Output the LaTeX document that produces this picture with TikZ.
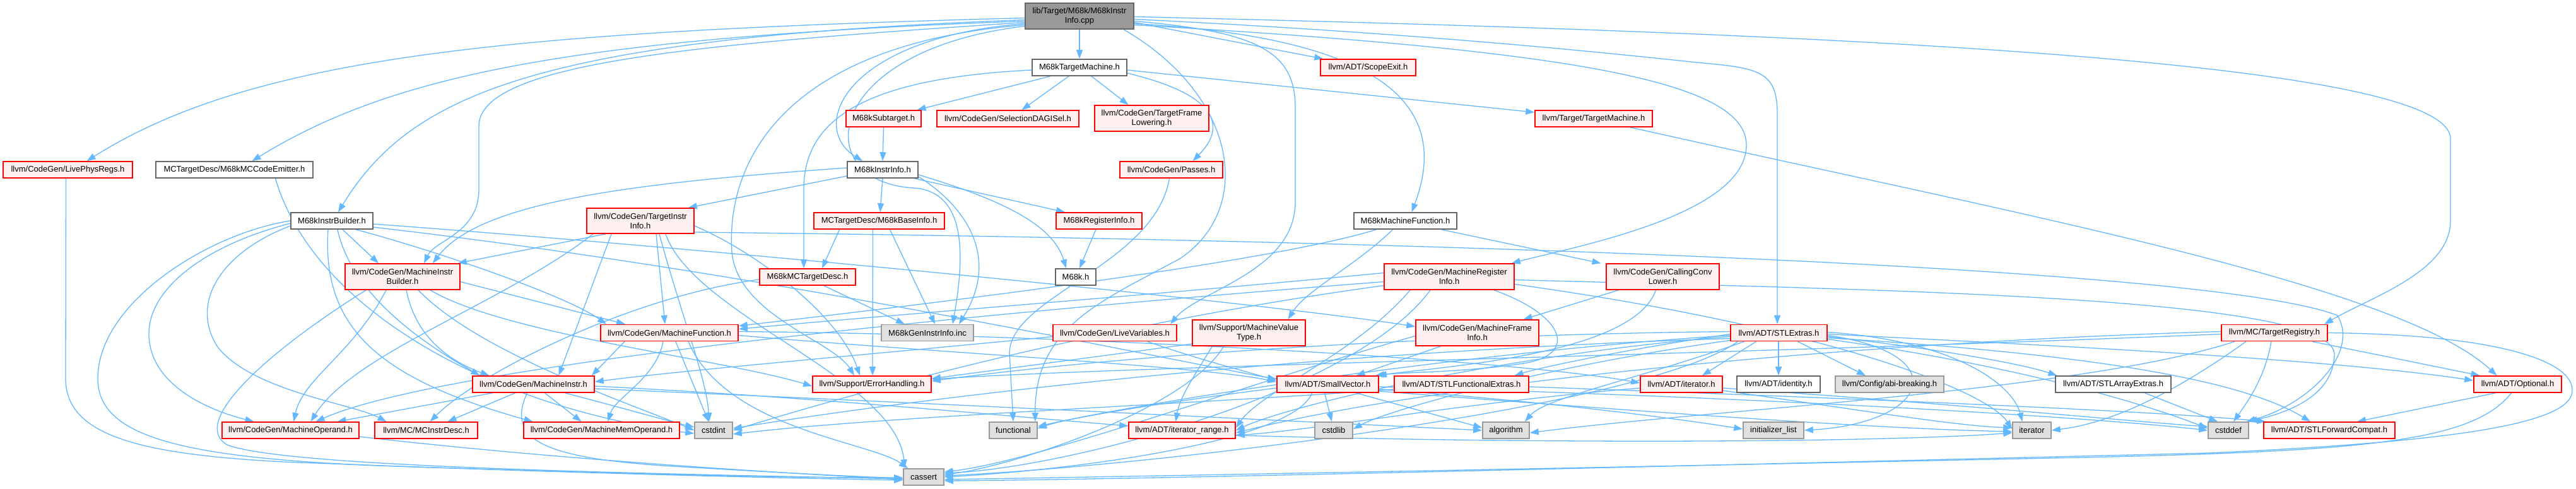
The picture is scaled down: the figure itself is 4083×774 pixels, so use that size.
\documentclass[tikz,border=0pt]{standalone}
\usepackage{fontspec}
\setmainfont{Liberation Sans}
\usetikzlibrary{arrows.meta,backgrounds}
\definecolor{edgec}{HTML}{63B8FF}
\definecolor{redb}{HTML}{FF0000}
\definecolor{redf}{HTML}{FFF0F0}
\definecolor{grayb}{HTML}{999999}
\definecolor{grayf}{HTML}{E0E0E0}
\definecolor{darkb}{HTML}{666666}
\definecolor{mainf}{HTML}{999999}
\begin{document}
\begin{tikzpicture}[x=1pt,y=-1pt,
  box/.style={draw, line width=1.6pt, inner sep=0pt, font=\fontsize{13}{15}\selectfont, align=center, minimum height=26pt},
  rbox/.style={box, draw=redb, fill=redf},
  wbox/.style={box, draw=darkb, fill=white},
  gbox/.style={box, draw=grayb, fill=grayf},
  mbox/.style={box, draw=darkb, fill=mainf},
  tall/.style={minimum height=41pt},
  e/.style={draw=edgec, line width=1.3pt, -{Triangle[length=14pt,width=10pt]}},
]
\useasboundingbox (0,0) rectangle (4083,774);
% nodes
\node[mbox,tall,minimum width=172pt] (main) at (1711,25.5) {lib/Target/M68k/M68kInstr\\Info.cpp};
\node[wbox,minimum width=150pt] (tm) at (1711,107) {M68kTargetMachine.h};
\node[rbox,minimum width=151pt] (scope) at (2168.5,107) {llvm/ADT/ScopeExit.h};
\node[rbox,minimum width=119pt] (sub) at (1400.5,188) {M68kSubtarget.h};
\node[rbox,minimum width=225pt] (dag) at (1597.5,188) {llvm/CodeGen/SelectionDAGISel.h};
\node[rbox,tall,minimum width=181pt] (tfl) at (1825.5,187.5) {llvm/CodeGen/TargetFrame\\Lowering.h};
\node[rbox,minimum width=186pt] (ttm) at (2526,188) {llvm/Target/TargetMachine.h};
\node[rbox,minimum width=205pt] (lpr) at (107.5,269) {llvm/CodeGen/LivePhysRegs.h};
\node[wbox,minimum width=249pt] (emit) at (371.5,269) {MCTargetDesc/M68kMCCodeEmitter.h};
\node[wbox,minimum width=112pt] (ii) at (1399,269) {M68kInstrInfo.h};
\node[rbox,minimum width=163pt] (passes) at (1856.5,269) {llvm/CodeGen/Passes.h};
\node[wbox,minimum width=130pt] (ib) at (526,350) {M68kInstrBuilder.h};
\node[rbox,minimum height=40pt,minimum width=170pt] (tii) at (1015,350) {llvm/CodeGen/TargetInstr\\Info.h};
\node[rbox,minimum width=207pt] (base) at (1393.5,350) {MCTargetDesc/M68kBaseInfo.h};
\node[rbox,minimum width=136pt] (ri) at (1742,350) {M68kRegisterInfo.h};
\node[wbox,minimum width=163pt] (mf68) at (2227.5,350) {M68kMachineFunction.h};
\node[rbox,tall,minimum width=182pt] (mib) at (638,438.5) {llvm/CodeGen/MachineInstr\\Builder.h};
\node[rbox,minimum width=152pt] (mcdesc) at (1280,439) {M68kMCTargetDesc.h};
\node[wbox,minimum width=64pt] (m68k) at (1705,439) {M68k.h};
\node[rbox,tall,minimum width=206pt] (mri) at (2297,438.5) {llvm/CodeGen/MachineRegister\\Info.h};
\node[rbox,tall,minimum width=179pt] (ccl) at (2635.5,438.5) {llvm/CodeGen/CallingConv\\Lower.h};
\node[rbox,minimum width=218pt] (mf) at (1061,527.5) {llvm/CodeGen/MachineFunction.h};
\node[gbox,minimum width=146pt] (inc) at (1470,527.5) {M68kGenInstrInfo.inc};
\node[rbox,minimum width=196pt] (lv) at (1767,527.5) {llvm/CodeGen/LiveVariables.h};
\node[rbox,tall,minimum width=179pt] (mvt) at (1979.5,527.5) {llvm/Support/MachineValue\\Type.h};
\node[rbox,tall,minimum width=195pt] (mfi) at (2341.5,527.5) {llvm/CodeGen/MachineFrame\\Info.h};
\node[rbox,minimum width=153pt] (stl) at (2819.5,527.5) {llvm/ADT/STLExtras.h};
\node[rbox,minimum width=168pt] (treg) at (3605,527.5) {llvm/MC/TargetRegistry.h};
\node[rbox,minimum width=193pt] (mi) at (845.5,609) {llvm/CodeGen/MachineInstr.h};
\node[rbox,minimum width=188pt] (eh) at (1382,609) {llvm/Support/ErrorHandling.h};
\node[rbox,minimum width=161pt] (sv) at (2104.5,609) {llvm/ADT/SmallVector.h};
\node[rbox,minimum width=213pt] (sfe) at (2316.5,609) {llvm/ADT/STLFunctionalExtras.h};
\node[rbox,minimum width=130pt] (iter) at (2665,609) {llvm/ADT/iterator.h};
\node[wbox,minimum width=132pt] (ident) at (2819,609) {llvm/ADT/identity.h};
\node[gbox,minimum width=172pt] (abi) at (2995,609) {llvm/Config/abi-breaking.h};
\node[wbox,minimum width=183pt] (sae) at (3349.5,609) {llvm/ADT/STLArrayExtras.h};
\node[rbox,minimum width=139pt] (opt) at (3990.5,609) {llvm/ADT/Optional.h};
\node[rbox,minimum width=217pt] (mo) at (460.5,682) {llvm/CodeGen/MachineOperand.h};
\node[rbox,minimum width=163pt] (mcid) at (675.5,682) {llvm/MC/MCInstrDesc.h};
\node[rbox,minimum width=247pt] (mmo) at (953.5,682) {llvm/CodeGen/MachineMemOperand.h};
\node[gbox,minimum width=60pt] (cstdint) at (1131,682) {cstdint};
\node[gbox,minimum width=76pt] (functional) at (1606,682) {functional};
\node[rbox,minimum width=169pt] (ir) at (1873.5,682) {llvm/ADT/iterator\_range.h};
\node[gbox,minimum width=60pt] (cstdlib) at (2114,682) {cstdlib};
\node[gbox,minimum width=74pt] (algorithm) at (2387,682) {algorithm};
\node[gbox,minimum width=96pt] (initlist) at (2811,682) {initializer\_list};
\node[gbox,minimum width=61pt] (iterator) at (3220.5,682) {iterator};
\node[gbox,minimum width=64pt] (cstddef) at (3532,682) {cstddef};
\node[rbox,minimum width=208pt] (sfc) at (3692,682) {llvm/ADT/STLForwardCompat.h};
\node[gbox,minimum width=64pt] (cassert) at (1464,756) {cassert};

\begin{scope}[on background layer]
\fill[white] (0,0) rectangle (4083,774);
% main
\draw[e] (main.south) -- (tm.north);
\draw[e] ([yshift=-10pt]main.east) -- ([xshift=5pt]scope.north west);
\draw[e] ([yshift=-3pt]main.west) .. controls (800,50) and (400,90) .. ([xshift=30pt]lpr.north);
\draw[e] ([yshift=-8pt]main.west) .. controls (900,60) and (620,120) .. ([xshift=28pt]emit.north);
\draw[e] ([yshift=-6pt]main.west) .. controls (850,60) and (650,150) .. ([xshift=10pt]ib.north);
\draw[e] ([yshift=-12pt]main.west) .. controls (1340,60) and (1280,200) .. ([xshift=-32pt]ii.north);
\draw[e] ([yshift=-16pt]main.west) .. controls (1300,80) and (1280,290) .. (1450,298) .. controls (1530,305) and (1530,400) .. ([xshift=40pt]inc.north);
\draw[e] ([yshift=-14pt]main.west) .. controls (1250,70) and (1150,250) .. (1160,400) .. controls (1170,500) and (1320,540) .. ([xshift=-28pt]eh.north);
\draw[e] ([yshift=-10pt]main.west) .. controls (1100,70) and (759,100) .. (759,200) -- (759,300) .. controls (759,370) and (690,380) .. ([xshift=34pt]mib.north);
\draw[e] ([yshift=-12pt]main.east) .. controls (2200,60) and (2300,170) .. ([xshift=10pt]mf68.north);
\draw[e] ([yshift=-8pt]main.east) .. controls (1990,50) and (2053,80) .. (2053,170) -- (2053,320) .. controls (2053,430) and (1900,460) .. ([xshift=88pt]lv.north);
\draw[e] ([yshift=-5pt]main.east) .. controls (2300,55) and (2600,90) .. (2700,100) .. controls (2790,108) and (2817,115) .. (2817,180) -- ([xshift=-2.5pt]stl.north);
\draw[e] ([yshift=-14pt]main.east) .. controls (2500,80) and (2768,130) .. (2768,230) .. controls (2768,340) and (2500,390) .. ([xshift=-5pt]mri.north east);
\draw[e] ([yshift=-1pt]main.east) .. controls (2800,50) and (3884,90) .. (3884,220) -- (3884,350) .. controls (3884,430) and (3760,470) .. ([xshift=79pt]treg.north);
\draw[e] ([xshift=70pt]main.south) .. controls (1960,150) and (1990,330) .. (1870,410) .. controls (1740,480) and (1640,520) .. ([xshift=-4pt]functional.north east);
% tm
\draw[e] ([xshift=-46pt]tm.south) -- ([xshift=53pt]sub.north);
\draw[e] ([xshift=-17pt]tm.south) -- ([xshift=22pt]dag.north);
\draw[e] ([xshift=19pt]tm.south) -- ([xshift=-37pt]tfl.north);
\draw[e] ([yshift=-9pt]tm.east) .. controls (1930,150) and (1945,200) .. ([xshift=34pt]passes.north);
\draw[e] ([yshift=-4pt]tm.east) -- ([yshift=10pt]ttm.west);
\draw[e] ([yshift=-4pt]tm.west) .. controls (1350,125) and (1274,200) .. (1274,300) -- ([xshift=-6pt]mcdesc.north);
\draw[e] (sub.south) -- (ii.north);
\draw[e] ([xshift=58pt]ttm.south) .. controls (3200,340) and (3800,450) .. ([xshift=-33pt]opt.north);
\draw[e] ([xshift=-3pt]passes.south) .. controls (1830,420) and (1600,470) .. (1600,560) -- (functional.north);
% ii
\draw[e] ([yshift=-10pt]ii.west) -- ([xshift=-10pt]tii.north east);
\draw[e] ([yshift=3pt]ii.west) .. controls (1000,290) and (760,320) .. ([xshift=48pt]mib.north);
\draw[e] (ii.south) -- ([xshift=1.5pt]base.north);
\draw[e] ([xshift=50pt]ii.south) -- ([xshift=-54pt]ri.north);
\draw[e] ([yshift=-8pt]ii.east) .. controls (1600,320) and (1670,360) .. ([xshift=-15pt]m68k.north);
\draw[e] ([yshift=-11pt]ii.east) .. controls (1520,320) and (1590,400) .. ([xshift=50pt]inc.north);
\draw[e] ([xshift=-63pt]base.south) -- ([xshift=23pt]mcdesc.north);
\draw[e] ([xshift=17pt]base.south) -- ([xshift=12pt]inc.north);
\draw[e] ([xshift=-10pt]base.south) -- ([xshift=1pt]eh.north);
\draw[e] ([xshift=-5pt]ri.south) -- ([xshift=6pt]m68k.north);
\draw[e] ([xshift=26pt]mcdesc.south) -- ([xshift=-36pt]inc.north);
\draw[e] ([yshift=-4pt]mcdesc.west) .. controls (1000,470) and (760,590) .. ([xshift=6pt]mcid.north);
% tii
\draw[e] ([xshift=-55pt]tii.south) -- ([xshift=-4pt]mib.north east);
\draw[e] ([xshift=-46pt]tii.south) -- ([xshift=40pt]mi.north);
\draw[e] ([xshift=25pt]tii.south) -- ([xshift=-7pt]mf.north);
\draw[e] ([xshift=-75pt]tii.south) .. controls (800,480) and (560,560) .. ([xshift=32pt]mo.north);
\draw[e] ([yshift=-8pt]tii.east) .. controls (1200,400) and (1330,500) .. ([xshift=-19pt]eh.north);
\draw[e] ([xshift=40pt]tii.south) .. controls (1100,500) and (1420,600) .. ([xshift=-30pt]cassert.north);
\draw[e] ([xshift=30pt]tii.south) .. controls (1080,500) and (1120,600) .. ([xshift=-7pt]cstdint.north);
\draw[e] ([yshift=-18pt]tii.east) .. controls (2200,380) and (3500,420) .. (3705,500) .. controls (3740,560) and (3660,640) .. ([xshift=-4pt]cstddef.north east);
% mib
\draw[e] ([yshift=-8pt]mib.east) -- ([xshift=-70pt]mf.north);
\draw[e] ([xshift=6pt]mib.south) .. controls (660,540) and (720,575) .. ([xshift=-70pt]mi.north);
\draw[e] ([xshift=-26pt]mib.south) .. controls (560,560) and (480,600) .. ([xshift=5pt]mo.north);
\draw[e] ([xshift=44pt]mib.south) .. controls (800,530) and (1150,570) .. ([yshift=-3pt]eh.west);
\draw[e] ([xshift=-58pt]mib.south) .. controls (420,560) and (300,670) .. (360,705) .. controls (450,740) and (1000,750) .. ([yshift=-3pt]cassert.west);
\draw[e] ([xshift=25pt]mib.south) .. controls (760,560) and (1000,640) .. (cstdint.west);
% ib
\draw[e] ([xshift=17pt]ib.south) -- ([xshift=-38pt]mib.north);
\draw[e] ([xshift=9pt]ib.south) .. controls (560,480) and (700,560) .. ([xshift=-85pt]mi.north);
\draw[e] ([xshift=38pt]ib.south) .. controls (700,400) and (900,470) .. ([xshift=-100pt]mf.north);
\draw[e] ([xshift=-6pt]ib.south) .. controls (510,520) and (600,600) .. ([xshift=-109pt]mmo.north);
\draw[e] ([yshift=-4pt]ib.west) .. controls (320,390) and (235,460) .. (236,530) .. controls (237,610) and (330,650) .. ([xshift=-58pt]mo.north);
\draw[e] ([yshift=-8pt]ib.west) .. controls (350,400) and (300,480) .. (345,550) .. controls (400,620) and (560,640) .. ([xshift=-63pt]mcid.north);
\draw[e] (ib.west) .. controls (330,370) and (155,480) .. (155,600) .. controls (155,690) and (280,725) .. (600,738) .. controls (1000,752) and (1300,758) .. ([yshift=-1pt]cassert.west);
\draw[e] ([yshift=-5pt]ib.east) .. controls (1200,400) and (2000,480) .. ([yshift=10pt]mfi.west);
\draw[e] ([yshift=-10pt]ib.east) .. controls (1200,430) and (1800,560) .. ([yshift=8pt]sv.west);
% mf
\draw[e] ([xshift=-71pt]mf.south) -- ([xshift=-5pt]mi.north east);
\draw[e] ([xshift=-10pt]mf.south) .. controls (1040,600) and (975,630) .. ([xshift=10pt]mmo.north);
\draw[e] ([xshift=10pt]mf.south) -- ([xshift=-8pt]cstdint.north);
\draw[e] ([xshift=30pt]mf.south) .. controls (1150,680) and (1380,700) .. ([xshift=-25pt]cassert.north);
\draw[e] ([yshift=-4pt]mf.east) .. controls (1500,560) and (1900,580) .. ([yshift=4pt]sv.west);
\draw[e] ([yshift=2pt]mf.east) .. controls (1700,530) and (2400,570) .. ([yshift=2pt]iter.west);
% mi
\draw[e] ([xshift=-65pt]mi.south) -- ([xshift=74pt]mo.north);
\draw[e] ([xshift=-29pt]mi.south) -- ([xshift=34pt]mcid.north);
\draw[e] ([xshift=18pt]mi.south) -- ([xshift=-32pt]mmo.north);
\draw[e] ([xshift=-10pt]mi.south) .. controls (800,700) and (870,725) .. (1050,738) .. controls (1250,750) and (1350,755) .. ([yshift=-2pt]cassert.west);
\draw[e] ([xshift=50pt]mi.south) .. controls (1000,650) and (1050,665) .. ([yshift=5pt]cstdint.west);
\draw[e] ([yshift=-3pt]mi.east) .. controls (1300,630) and (1600,660) .. ([yshift=7pt]ir.west);
\draw[e] ([yshift=-7pt]mi.east) .. controls (1500,640) and (2100,670) .. (algorithm.west);
\draw[e] ([yshift=-10pt]mo.east) .. controls (900,730) and (1250,750) .. ([yshift=-4pt]cassert.west);
% mri
\draw[e] ([yshift=6pt]mri.west) .. controls (1800,470) and (1400,500) .. ([yshift=6pt]mf.east);
\draw[e] ([yshift=-8pt]mri.west) .. controls (1500,500) and (700,580) .. ([xshift=40pt]mo.north);
\draw[e] ([xshift=71pt]mri.south) .. controls (2480,500) and (2500,560) .. (2420,575) .. controls (2330,590) and (2220,590) .. ([xshift=-2pt]sv.north east);
\draw[e] ([xshift=-62pt]mri.south) .. controls (2150,560) and (2000,620) .. ([yshift=4pt]ir.east);
\draw[e] ([xshift=-30pt]mri.south) .. controls (2150,620) and (1700,740) .. ([yshift=6pt]cassert.east);
\draw[e] ([yshift=-14pt]mri.west) .. controls (1700,520) and (1300,640) .. (cstdint.east);
\draw[e] ([yshift=-5pt]mri.east) .. controls (3000,460) and (3690,470) .. (3700,560) .. controls (3700,630) and (3620,655) .. ([xshift=-1pt]cstddef.north east);
\draw[e] ([yshift=-12pt]mri.east) .. controls (2900,520) and (3150,620) .. ([yshift=2pt]iterator.west);
% ccl, mfi, mf68, mvt, lv
\draw[e] ([xshift=-70pt]ccl.south) -- ([xshift=73pt]mfi.north);
\draw[e] ([xshift=-11pt]ccl.south) .. controls (2590,560) and (2300,580) .. ([xshift=-6pt]sv.north east);
\draw[e] ([xshift=-58pt]mfi.south) -- ([xshift=45pt]sv.north);
\draw[e] ([yshift=-5pt]mfi.west) .. controls (2000,600) and (1650,730) .. ([yshift=8pt]cassert.east);
\draw[e] ([xshift=-46pt]mf68.south) .. controls (2000,420) and (1400,490) .. ([yshift=11pt]mf.east);
\draw[e] ([xshift=-20pt]mf68.south) .. controls (2150,420) and (2070,460) .. ([xshift=62pt]mvt.north);
\draw[e] ([xshift=57pt]mf68.south) -- ([xshift=-98pt]ccl.north);
\draw[e] ([yshift=-17.5pt]mvt.west) -- ([yshift=9pt]eh.east);
\draw[e] ([xshift=-58pt]mvt.south) .. controls (1890,600) and (1870,630) .. ([xshift=-10pt]ir.north);
\draw[e] ([xshift=-40pt]mvt.south) .. controls (1880,650) and (1600,740) .. ([yshift=4pt]cassert.east);
\draw[e] ([yshift=-6pt]lv.west) .. controls (1400,560) and (1100,585) .. ([yshift=4pt]mi.east);
\draw[e] ([xshift=52pt]lv.south) .. controls (1900,570) and (1980,590) .. ([yshift=6pt]sv.west);
% stl
\draw[e] ([yshift=-2pt]stl.east) .. controls (3300,550) and (3700,570) .. ([yshift=6pt]opt.west);
\draw[e] ([yshift=-6pt]stl.east) .. controls (3050,550) and (3200,575) .. ([xshift=-89pt]sae.north);
\draw[e] ([yshift=-8pt]stl.east) .. controls (3300,560) and (3550,600) .. ([xshift=-30pt]sfc.north);
\draw[e] ([yshift=-2pt]stl.west) .. controls (2600,550) and (2450,580) .. ([xshift=84pt]sfe.north);
\draw[e] ([xshift=-0.5pt]stl.south) -- (ident.north);
\draw[e] ([xshift=-36pt]stl.south) -- ([xshift=33pt]iter.north);
\draw[e] ([xshift=30pt]stl.south) -- ([xshift=-38pt]abi.north);
\draw[e] ([yshift=-6pt]stl.west) .. controls (2400,560) and (2050,640) .. ([yshift=0pt]ir.east);
\draw[e] ([yshift=2pt]stl.west) .. controls (2300,530) and (1800,560) .. ([yshift=5pt]eh.east);
\draw[e] ([xshift=-55pt]stl.south) .. controls (2600,600) and (2450,630) .. ([xshift=30pt]algorithm.north);
\draw[e] ([xshift=-65pt]stl.south) .. controls (2600,650) and (1800,740) .. ([yshift=2pt]cassert.east);
\draw[e] ([yshift=-10pt]stl.east) .. controls (3200,580) and (3400,640) .. ([yshift=3pt]cstddef.west);
\draw[e] ([yshift=-9pt]stl.west) .. controls (2000,560) and (1400,640) .. ([yshift=3pt]cstdint.east);
\draw[e] ([yshift=-12pt]stl.west) .. controls (2450,580) and (2200,650) .. ([yshift=2pt]cstdlib.east);
\draw[e] ([yshift=-4pt]stl.west) .. controls (2300,560) and (1800,640) .. ([yshift=6pt]functional.east);
\draw[e] ([yshift=-4pt]stl.east) .. controls (3100,560) and (3060,670) .. (initlist.east);
\draw[e] ([yshift=1pt]stl.east) .. controls (3100,540) and (3190,610) .. ([xshift=-15pt]iterator.north);
% treg
\draw[e] ([xshift=60pt]treg.south) -- ([xshift=-60pt]opt.north);
\draw[e] ([yshift=2pt]treg.west) .. controls (3000,540) and (2300,600) .. ([yshift=-4pt]ir.east);
\draw[e] ([yshift=-2pt]treg.west) .. controls (2800,560) and (1800,580) .. ([yshift=8pt]eh.east);
\draw[e] ([xshift=-63pt]treg.south) .. controls (3300,620) and (2700,650) .. ([yshift=-4pt]algorithm.east);
\draw[e] ([xshift=-45pt]treg.south) .. controls (3450,620) and (3350,670) .. (iterator.east);
\draw[e] ([xshift=-5pt]treg.south) .. controls (3590,600) and (3560,640) .. ([xshift=8pt]cstddef.north);
\draw[e] (treg.east) .. controls (3950,530) and (4080,570) .. (4077,620) .. controls (4075,670) and (3900,700) .. (3500,718) .. controls (2600,740) and (1800,760) .. ([yshift=-6pt]cassert.east);
% opt, sae, iter, ir
\draw[e] ([xshift=-35pt]opt.south) -- ([xshift=44pt]sfc.north);
\draw[e] ([xshift=-10pt]opt.south) .. controls (3920,700) and (3750,715) .. (3300,725) .. controls (2500,742) and (1800,755) .. ([yshift=-4pt]cassert.east);
\draw[e] ([xshift=50pt]sae.south) -- ([xshift=-17pt]cstddef.north);
\draw[e] ([yshift=-6pt]iter.west) .. controls (2300,640) and (2100,680) .. ([yshift=-8pt]ir.east);
\draw[e] ([yshift=-6pt]iter.east) .. controls (3100,640) and (3400,670) .. ([yshift=6pt]cstddef.west);
\draw[e] ([yshift=-10pt]iter.east) .. controls (2950,650) and (3100,675) .. ([yshift=4pt]iterator.west);
\draw[e] ([yshift=-8pt]ir.east) .. controls (2500,705) and (3000,700) .. ([yshift=-4pt]iterator.west);
% sv
\draw[e] ([xshift=-5pt]sv.south) -- ([xshift=-3pt]cstdlib.north);
\draw[e] ([xshift=45pt]sv.south) -- ([yshift=4pt]algorithm.west);
\draw[e] ([xshift=-25pt]sv.south) .. controls (2050,700) and (1700,745) .. (cassert.east);
\draw[e] ([yshift=-6pt]sv.west) .. controls (1900,630) and (1700,660) .. ([yshift=3pt]functional.east);
\draw[e] ([yshift=-4pt]sv.east) .. controls (2800,630) and (3300,660) .. (cstddef.west);
\draw[e] ([yshift=-8pt]sv.east) .. controls (2500,640) and (2700,670) .. ([yshift=2pt]initlist.west);
\draw[e] ([yshift=-11pt]sv.east) .. controls (2700,660) and (3000,680) .. ([yshift=-2pt]iterator.west);
% sfe, emit, lpr
\draw[e] ([yshift=-8pt]sfe.west) .. controls (1900,640) and (1400,660) .. ([yshift=-6pt]cstdint.east);
\draw[e] ([yshift=-4pt]sfe.east) .. controls (2900,630) and (3400,650) .. ([xshift=4pt]sfc.north west);
\draw[e] ([xshift=65pt]emit.south) .. controls (500,500) and (800,650) .. ([yshift=-5pt]cstdint.west);
\draw[e] ([xshift=-3pt]lpr.south) -- (104,600) .. controls (104,690) and (220,720) .. (450,732) .. controls (900,750) and (1250,758) .. ([yshift=-5pt]cassert.west);
\end{scope}
\end{tikzpicture}
\end{document}
